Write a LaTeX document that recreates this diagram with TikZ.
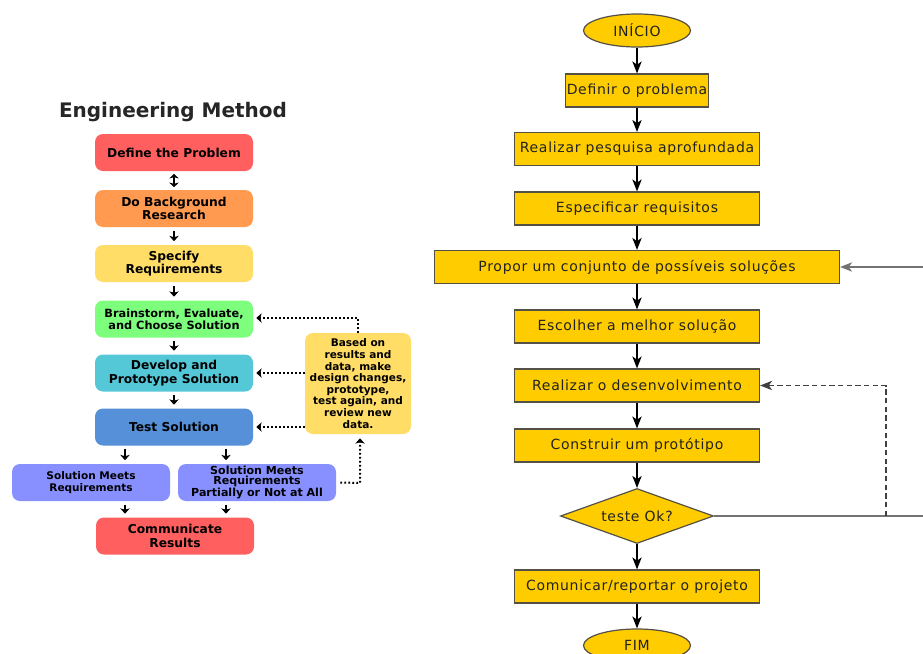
\documentclass[tikz,border=0pt]{standalone}
\usepackage{fontspec}
\setmainfont{DejaVu Sans}
\newfontfamily\flowfont[LetterSpace=5]{DejaVu Sans}
\usetikzlibrary{shapes.geometric,arrows.meta,calc}
\definecolor{gold}{HTML}{FFCC00}
\definecolor{goldline}{HTML}{555045}
\definecolor{cred}{HTML}{FF5F5F}
\definecolor{corange}{HTML}{FF9A50}
\definecolor{cyellow}{HTML}{FFDD66}
\definecolor{cgreen}{HTML}{7DFF7D}
\definecolor{ccyan}{HTML}{55C8D8}
\definecolor{cblue}{HTML}{5590D8}
\definecolor{cpurple}{HTML}{8890FF}
\definecolor{txt}{HTML}{222222}
\begin{document}
\begin{tikzpicture}[x=0.75pt,y=-0.75pt,
  flow/.style={draw=goldline,fill=gold,line width=0.9pt,text=txt,inner sep=1pt,
     font=\flowfont\fontsize{10.5}{12}\selectfont,minimum height=33*0.75pt},
  term/.style={ellipse,draw=goldline,fill=gold,line width=0.9pt,text=txt,
     font=\flowfont\fontsize{10.5}{12}\selectfont,minimum width=107*0.75pt,minimum height=33*0.75pt,inner sep=0pt},
  farrow/.style={-{Stealth[length=9pt,width=7pt,inset=2.5pt]},line width=0.9pt,black},
  back/.style={-{Stealth[length=9pt,width=7pt,inset=2.5pt]},line width=0.9pt,black!55},
  ebox/.style={rounded corners=8*0.75pt,text=black,align=center,inner sep=1pt,
     font=\fontsize{9.2}{10}\selectfont\bfseries,minimum width=158*0.75pt,minimum height=37*0.75pt},
  earrow/.style={-{Stealth[length=4pt,width=7pt,inset=1pt]},line width=1.5pt,black,shorten <=3.5*0.75pt,shorten >=3.5*0.75pt},
  darrow/.style={{Stealth[length=3.5pt,width=7pt,inset=1pt]}-{Stealth[length=3.5pt,width=7pt,inset=1pt]},line width=1.5pt,black,shorten <=2.5*0.75pt,shorten >=2.5*0.75pt},
  dotarrow/.style={-{Stealth[length=4pt,width=7pt,inset=1pt]},line width=1.5pt,black,dash pattern=on 1.4pt off 1.6pt},
]
\useasboundingbox (0,0) rectangle (923,653);
\fill[white] (0,0) rectangle (923,653);
\clip (0,0) rectangle (923,653);

% ---------- left: Engineering Method ----------
\node[font=\fontsize{15}{17}\selectfont\bfseries,text=black!85] (title) at (173,112) {Engineering Method};
\node[ebox,fill=cred] (def) at (174,152.5) {Define the Problem};
\node[ebox,fill=corange] (bg) at (174,208.5) {Do Background\\Research};
\node[ebox,fill=cyellow] (spec) at (174,263.5) {Specify\\Requirements};
\node[ebox,fill=cgreen,font=\fontsize{8.5}{8.8}\selectfont\bfseries] (brain) at (174,319) {Brainstorm, Evaluate,\\and Choose Solution};
\node[ebox,fill=ccyan] (dev) at (174,373) {Develop and\\Prototype Solution};
\node[ebox,fill=cblue] (test) at (174,427) {Test Solution};
\node[ebox,fill=cpurple,font=\fontsize{7.9}{8.6}\selectfont\bfseries] (meets) at (91,482.5) {Solution Meets\\Requirements};
\node[ebox,fill=cpurple,font=\fontsize{8.3}{7.7}\selectfont\bfseries] (partial) at (257,482.5) {Solution Meets\\Requirements\\Partially or Not at All};
\node[ebox,fill=cred] (comm) at (175,536) {Communicate\\Results};
\node[ebox,fill=cyellow,minimum width=106*0.75pt,minimum height=101*0.75pt,
      font=\fontsize{7.9}{8.7}\selectfont\bfseries] (based) at (358,383.5)
      {Based on\\results and\\data, make\\design changes,\\prototype,\\test again, and\\review new\\data.};

\draw[darrow] (def) -- (bg);
\draw[earrow] (bg) -- (spec);
\draw[earrow] (spec) -- (brain);
\draw[earrow] (brain) -- (dev);
\draw[earrow] (dev) -- (test);
\coordinate (cl) at (125,0);
\coordinate (cr) at (226,0);
\draw[earrow] (test.south -| cl) -- (meets.north -| cl);
\draw[earrow] (test.south -| cr) -- (partial.north -| cr);
\draw[earrow] (meets.south -| cl) -- (comm.north -| cl);
\draw[earrow] (partial.south -| cr) -- (comm.north -| cr);

\coordinate (tb) at (358,318);
\draw[dotarrow] (based.north) -- (tb) -- ([xshift=3*0.75pt]brain.east |- tb);
\draw[dotarrow] (based.west |- dev) -- ([xshift=3*0.75pt]dev.east);
\draw[dotarrow] (based.west |- test) -- ([xshift=3*0.75pt]test.east);
\coordinate (pb) at (360,483);
\draw[dotarrow] ([xshift=4*0.75pt]partial.east) -- (pb) -- ([yshift=-4*0.75pt]based.south -| pb);

% ---------- right: flowchart ----------
\node[term] (ini) at (637,30.5) {INÍCIO};
\node[flow,minimum width=143*0.75pt] (p1) at (637,90.5) {Definir o problema};
\node[flow,minimum width=245*0.75pt] (p2) at (637,149) {Realizar pesquisa aprofundada};
\node[flow,minimum width=245*0.75pt] (p3) at (637,208.5) {Especificar requisitos};
\node[flow,minimum width=405*0.75pt] (p4) at (637,267) {Propor um conjunto de possíveis soluções};
\node[flow,minimum width=245*0.75pt] (p5) at (637,326.5) {Escolher a melhor solução};
\node[flow,minimum width=245*0.75pt] (p6) at (637,385.5) {Realizar o desenvolvimento};
\node[flow,minimum width=245*0.75pt] (p7) at (637,445.5) {Construir um protótipo};
\node[flow,diamond,aspect=2.78,minimum width=153*0.75pt,minimum height=55*0.75pt,inner sep=0pt] (dec) at (637,516) {teste Ok?};
\node[flow,minimum width=245*0.75pt] (p8) at (637,586.5) {Comunicar/reportar o projeto};
\node[term] (fim) at (637,645.5) {FIM};

\draw[farrow] (ini) -- (p1);
\draw[farrow] (p1) -- (p2);
\draw[farrow] (p2) -- (p3);
\draw[farrow] (p3) -- (p4);
\draw[farrow] (p4) -- (p5);
\draw[farrow] (p5) -- (p6);
\draw[farrow] (p6) -- (p7);
\draw[farrow] (p7) -- (dec);
\draw[farrow] (dec) -- (p8);
\draw[farrow] (p8) -- (fim);

\coordinate (off) at (940,516);
\coordinate (jn) at (886,516);
\draw[back] (dec.east) -- (off) |- (p4.east);
\draw[back,dashed,dash pattern=on 4pt off 2.5pt,black!75] (jn) |- (p6.east);
\end{tikzpicture}
\end{document}
